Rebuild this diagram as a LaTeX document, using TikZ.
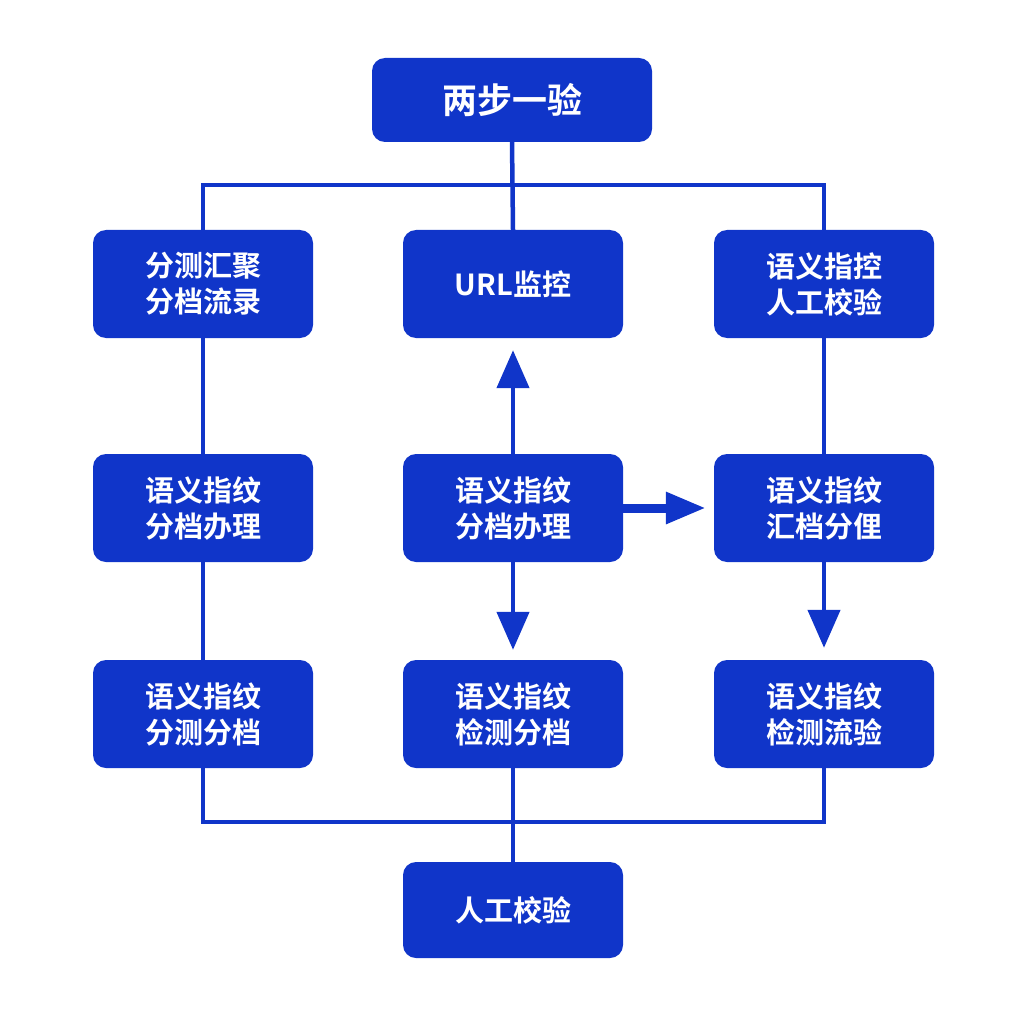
\documentclass[tikz,border=0pt]{standalone}
\usepackage{fontspec}
\newfontfamily\cjk{Noto Sans CJK SC}[BoldFont={Noto Sans CJK SC Bold}]
\usetikzlibrary{arrows.meta}
\definecolor{bx}{HTML}{1035C9}
\begin{document}
\begin{tikzpicture}[x=1pt,y=-1pt,
  box/.style={fill=bx,rounded corners=13pt,minimum width=220pt,minimum height=108pt,text=white,font=\cjk\bfseries\fontsize{29}{36}\selectfont,align=center,inner sep=0pt},
  ln/.style={draw=bx,line width=4.5pt},
  ar/.style={ln,-{Triangle[length=38pt,width=32pt]}}]
\useasboundingbox (0,0) rectangle (1024,1024);
\node[box,minimum width=280pt,minimum height=84pt,font=\cjk\bfseries\fontsize{35}{40}\selectfont] (top) at (512,100) {两步一验};
\node[box] (a1) at (203,284) {分测汇聚\\分档流录};
\node[box,font=\cjk\bfseries\fontsize{29}{36}\selectfont] (b1) at (513,284) {URL监控};
\node[box] (c1) at (824,284) {语义指控\\人工校验};
\node[box] (a2) at (203,508) {语义指纹\\分档办理};
\node[box] (b2) at (513,508) {语义指纹\\分档办理};
\node[box] (c2) at (824,508) {语义指纹\\汇档分俚};
\node[box] (a3) at (203,714) {语义指纹\\分测分档};
\node[box] (b3) at (513,714) {语义指纹\\检测分档};
\node[box] (c3) at (824,714) {语义指纹\\检测流验};
\node[box,minimum height=96pt] (bot) at (513,910) {人工校验};
\coordinate (tl) at (203,185); \coordinate (tr) at (824,185); \coordinate (tm) at (513,185);
\coordinate (bl) at (203,822); \coordinate (br) at (824,822); \coordinate (bm) at (513,822);
\draw[ln] (top.south) -- (b1.north);
\draw[ln] (a1.north) -- (tl) -- (tr) -- (c1.north);
\draw[ln] (a1) -- (a2); \draw[ln] (a2) -- (a3);
\draw[ln] (a3.south) -- (bl) -- (br) -- (c3.south);
\draw[ln] (b3.south) -- (bot.north);
\draw[ln] (c1) -- (c2);
\draw[ar,shorten >=12pt] (c2.south) -- (c3.north);
\draw[ar,shorten >=12pt] (b2.north) -- (b1.south);
\draw[ar,shorten >=10pt] (b2.south) -- (b3.north);
\draw[draw=bx,line width=9pt,-{Triangle[length=40pt,width=30pt]},shorten >=8pt] (b2.east) -- (c2.west);
\end{tikzpicture}
\end{document}
